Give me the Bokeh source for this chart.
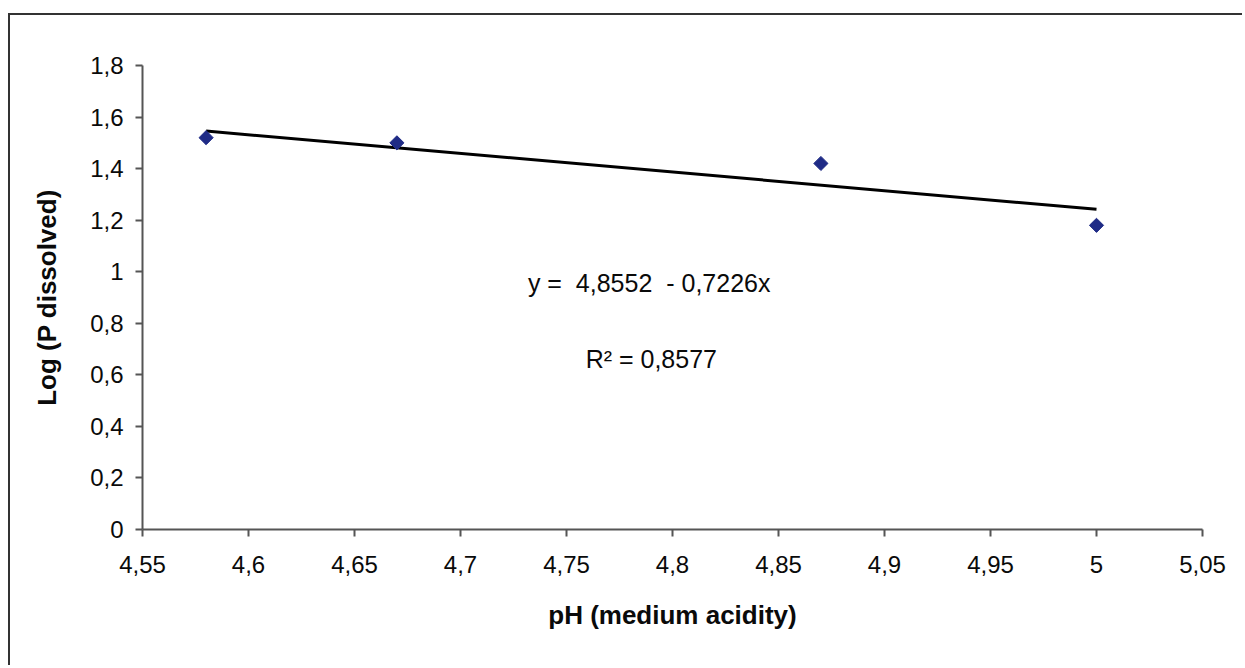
from bokeh.plotting import figure
from bokeh.models import Range1d, FixedTicker, CustomJSTickFormatter, Label
from bokeh.embed import file_html
from bokeh.resources import INLINE
import math

# ---- data ----
ph = [4.58, 4.67, 4.87, 5.0]
log_p = [1.52, 1.50, 1.42, 1.18]
fit_intercept = 4.8552
fit_slope = -0.7226
fit_x = [4.58, 5.0]
fit_y = [fit_intercept + fit_slope * v for v in fit_x]
x_ticks = [4.55, 4.6, 4.65, 4.7, 4.75, 4.8, 4.85, 4.9, 4.95, 5.0, 5.05]
y_ticks = [0, 0.2, 0.4, 0.6, 0.8, 1.0, 1.2, 1.4, 1.6, 1.8]
eq_text = "y =\u00a0 4,8552\u00a0 - 0,7226x"
r2_text = "R\u00b2 = 0,8577"
x_title = "pH (medium acidity)"
y_title = "Log (P dissolved)"

FONT = "Liberation Sans"
AXIS_COLOR = "#555555"
TEXT_COLOR = "#0a0a0a"

W, H = 1234, 652
p = figure(width=W, height=H, output_backend="svg", toolbar_location=None,
           x_range=Range1d(4.55, 5.05), y_range=Range1d(0, 1.8),
           min_border_left=132, min_border_top=50, min_border_right=W - 1192,
           min_border_bottom=H - 514)
p.styles = {"border-top": "2px solid #333333", "border-left": "2px solid #333333",
            "margin-top": "13px", "margin-left": "8px"}
p.outline_line_color = None
p.xgrid.visible = False
p.ygrid.visible = False
p.background_fill_color = "white"
p.border_fill_color = "white"

fmt = CustomJSTickFormatter(code="return tick.toString().replace('.', ',');")
p.xaxis.ticker = FixedTicker(ticks=x_ticks)
p.yaxis.ticker = FixedTicker(ticks=y_ticks)
p.xaxis.formatter = fmt
p.yaxis.formatter = fmt

for ax in (p.xaxis, p.yaxis):
    ax.axis_line_color = AXIS_COLOR
    ax.axis_line_width = 2
    ax.major_tick_line_color = AXIS_COLOR
    ax.major_tick_line_width = 2
    ax.major_tick_out = 7
    ax.major_tick_in = 0
    ax.minor_tick_line_color = None
    ax.major_label_text_font = FONT
    ax.major_label_text_font_size = "24px"
    ax.major_label_text_color = TEXT_COLOR
    ax.axis_label_text_font = FONT
    ax.axis_label_text_font_size = "26px"
    ax.axis_label_text_font_style = "bold"
    ax.axis_label_text_color = TEXT_COLOR

p.xaxis.axis_label = x_title
p.yaxis.axis_label = y_title
p.xaxis.major_label_standoff = 19
p.yaxis.major_label_standoff = 12
p.xaxis.axis_label_standoff = 24
p.yaxis.axis_label_standoff = 25

p.line(fit_x, fit_y, line_color="black", line_width=3)
p.scatter(ph, log_p, marker="square", size=10, angle=math.pi / 4,
          fill_color="#1F2B86", line_color="#1F2B86")

p.add_layout(Label(x=4.789, y=0.958, text=eq_text, text_font=FONT,
                   text_font_size="25px", text_align="center",
                   text_baseline="middle", text_color=TEXT_COLOR))
p.add_layout(Label(x=4.790, y=0.663, text=r2_text, text_font=FONT,
                   text_font_size="25px", text_align="center",
                   text_baseline="middle", text_color=TEXT_COLOR))

open("out.html", "w").write(file_html(p, INLINE))
